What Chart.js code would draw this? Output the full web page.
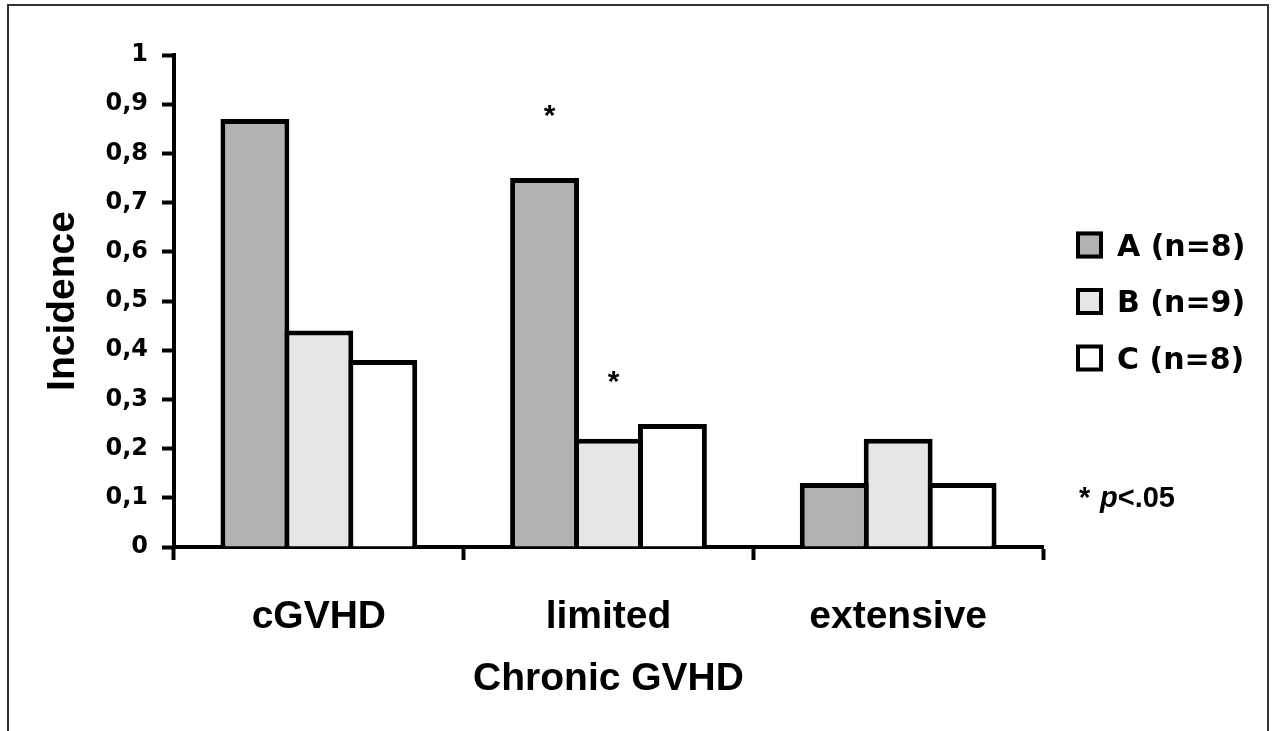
<!DOCTYPE html>
<html>
<head>
<meta charset="utf-8">
<title>Chronic GVHD</title>
<script src="https://cdn.jsdelivr.net/npm/chart.js@4.4.1/dist/chart.umd.min.js"></script>
<style>
  html, body { margin: 0; padding: 0; background: #fff; overflow: hidden; }
  .chart-box { position: relative; width: 1272px; height: 731px; }
</style>
</head>
<body>
<div class="chart-box"><canvas id="gvhdChart"></canvas></div>
<script>
const categories = ["cGVHD", "limited", "extensive"];
const seriesLabels = ["A (n=8)", "B (n=9)", "C (n=8)"];
const seriesA = [0.87, 0.75, 0.13];
const seriesB = [0.44, 0.22, 0.22];
const seriesC = [0.38, 0.25, 0.13];
const seriesColors = ["#b2b2b2", "#e6e6e6", "#ffffff"];
const yTickLabels = ["0", "0,1", "0,2", "0,3", "0,4", "0,5", "0,6", "0,7", "0,8", "0,9", "1"];
// asterisks: category index, series index, level of the asterisk baseline
const starMarks = [
  { category: 1, series: 0, level: 0.858 },
  { category: 1, series: 1, level: 0.317 },
];
const noteStar = "* ";
const noteP = "p";
const noteRest = "<.05";

const ARIAL = "'Liberation Sans', Arial, sans-serif";
const DEJAVU = "'DejaVu Sans', sans-serif";

// legend, asterisks, footnote and the frame
const decorations = {
  id: "decorations",
  afterDraw(chart) {
    const ctx = chart.ctx;
    const yScale = chart.scales.y;
    ctx.save();
    ctx.fillStyle = "#000";

    ctx.font = `bold 30px ${ARIAL}`;
    ctx.textAlign = "center";
    ctx.textBaseline = "alphabetic";
    starMarks.forEach((m) => {
      const bar = chart.getDatasetMeta(m.series).data[m.category];
      ctx.fillText("*", bar.x + 5, yScale.getPixelForValue(m.level));
    });

    // legend on the right
    ctx.font = `bold 30px ${DEJAVU}`;
    ctx.textAlign = "left";
    ctx.textBaseline = "middle";
    chart.data.datasets.forEach((ds, i) => {
      const cy = 245 + i * 56.5;
      ctx.fillStyle = ds.backgroundColor;
      ctx.fillRect(1076, cy - 13.5, 27, 27);
      ctx.strokeStyle = "#000";
      ctx.lineWidth = 4;
      ctx.strokeRect(1078, cy - 11.5, 23, 23);
      ctx.fillStyle = "#000";
      ctx.fillText(ds.label, 1117, cy + 3);
    });

    // * p<.05
    ctx.textBaseline = "alphabetic";
    ctx.font = `bold 29px ${ARIAL}`;
    let x = 1079;
    ctx.fillText(noteStar, x, 507);
    x = 1100;
    ctx.font = `italic bold 29px ${ARIAL}`;
    ctx.fillText(noteP, x, 507);
    x += ctx.measureText(noteP).width;
    ctx.font = `bold 29px ${ARIAL}`;
    ctx.fillText(noteRest, x, 507);

    ctx.strokeStyle = "#333";
    ctx.lineWidth = 2;
    ctx.strokeRect(8, 5, 1260, 780);
    ctx.restore();
  },
};

const ctx = document.getElementById("gvhdChart");

new Chart(ctx, {
  type: "bar",
  data: {
    labels: categories,
    datasets: [seriesA, seriesB, seriesC].map((values, i) => ({
      label: seriesLabels[i],
      data: values,
      backgroundColor: seriesColors[i],
      borderColor: "#000",
      borderWidth: 5,
      borderSkipped: "start",
      inflateAmount: 0,
      categoryPercentage: 0.662,
      barPercentage: 1.078,
    })),
  },
  options: {
    responsive: true,
    maintainAspectRatio: false,
    animation: false,
    layout: { padding: { left: 0, right: 229, top: 55, bottom: 0 } },
    plugins: {
      legend: { display: false },
      tooltip: { enabled: false },
    },
    scales: {
      x: {
        offset: true,
        z: 1,
        border: { color: "#000", width: 4 },
        grid: {
          drawOnChartArea: false,
          offset: true,
          tickLength: 13,
          tickWidth: 4,
          tickColor: "#000",
        },
        ticks: {
          color: "#000",
          font: { family: ARIAL, size: 39, weight: "bold" },
          padding: 34,
          maxRotation: 0,
        },
        title: {
          display: true,
          text: "Chronic GVHD",
          color: "#000",
          font: { family: ARIAL, size: 39, weight: "bold" },
          padding: { top: 0, bottom: 28 },
        },
        afterFit(scale) {
          scale.height = 184;
        },
      },
      y: {
        min: 0,
        max: 1,
        border: { color: "#000", width: 4 },
        grid: {
          drawOnChartArea: false,
          tickLength: 12,
          tickWidth: 4,
          tickColor: "#000",
        },
        ticks: {
          stepSize: 0.1,
          color: "#000",
          font: { family: DEJAVU, size: 24, weight: "bold" },
          padding: 14,
          callback: (value, index) => yTickLabels[index],
        },
        title: {
          display: true,
          text: "Incidence",
          color: "#000",
          font: { family: ARIAL, size: 39, weight: "bold" },
          padding: { top: 40, bottom: 0 },
        },
        afterFit(scale) {
          scale.width = 174;
        },
      },
    },
  },
  plugins: [decorations],
});
</script>
</body>
</html>
